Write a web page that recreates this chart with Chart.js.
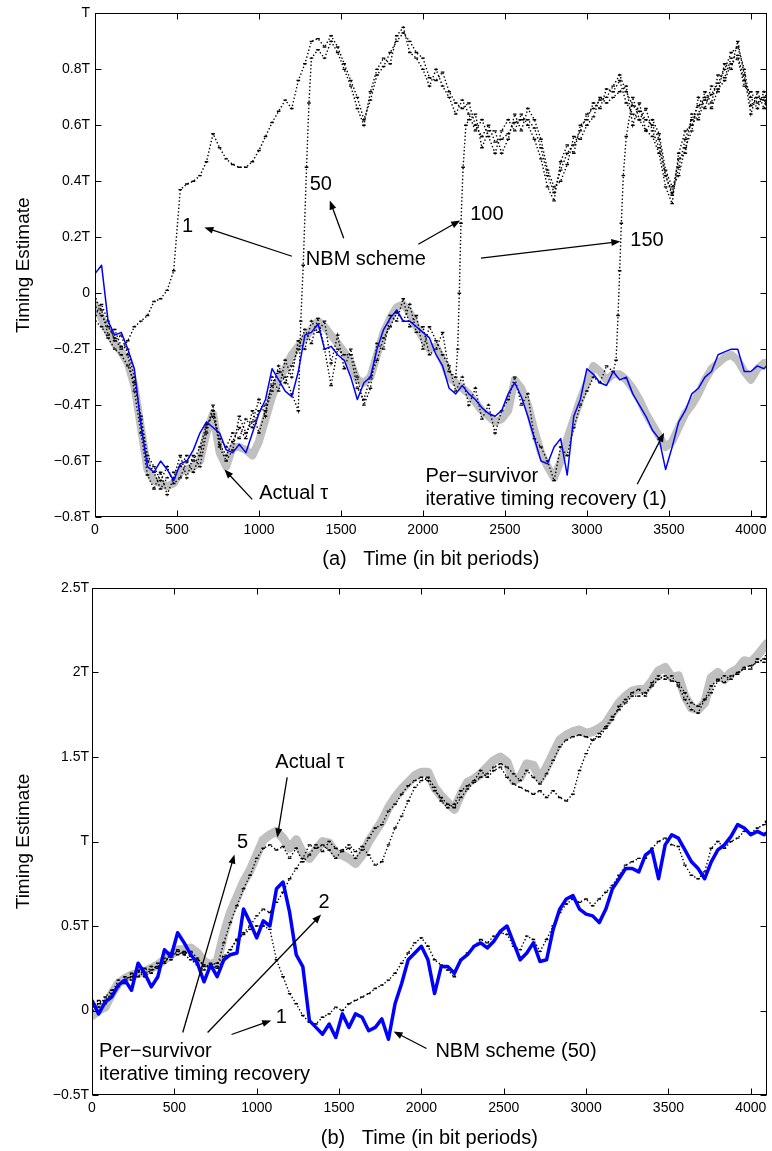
<!DOCTYPE html>
<html>
<head>
<meta charset="utf-8">
<script src="https://cdn.jsdelivr.net/npm/chart.js@4.4.0/dist/chart.umd.min.js"></script>
<style>
  html, body { margin: 0; padding: 0; background: #fff; }
  #wrap { position: relative; width: 772px; height: 1151px; }
  canvas { position: absolute; left: 0; }
  #chartA { top: 0; }
  #chartB { top: 575px; }
</style>
</head>
<body>
<div id="wrap">
  <canvas id="chartA" width="772" height="575"></canvas>
  <canvas id="chartB" width="772" height="576"></canvas>
</div>
<script>
// Sample times (bit periods), shared by every series
const timeGrid = [
  0, 40, 80, 120, 160, 200, 240, 280, 320, 360,
  400, 440, 480, 520, 560, 600, 640, 680, 720, 760,
  800, 840, 880, 920, 960, 1000, 1040, 1080, 1120, 1160,
  1200, 1240, 1280, 1320, 1360, 1400, 1440, 1480, 1520, 1560,
  1600, 1640, 1680, 1720, 1760, 1800, 1840, 1880, 1920, 1960,
  2000, 2040, 2080, 2120, 2160, 2200, 2240, 2280, 2320, 2360,
  2400, 2440, 2480, 2520, 2560, 2600, 2640, 2680, 2720, 2760,
  2800, 2840, 2880, 2920, 2960, 3000, 3040, 3080, 3120, 3160,
  3200, 3240, 3280, 3320, 3360, 3400, 3440, 3480, 3520, 3560,
  3600, 3640, 3680, 3720, 3760, 3800, 3840, 3880, 3920, 3960,
  4000, 4040, 4080, 4096
];

// ---- (a) top panel ----
// actual tau (grey)
const tauA = [
  -0.04, -0.09, -0.14, -0.18, -0.21, -0.25, -0.33, -0.48, -0.63, -0.67,
  -0.68, -0.69, -0.68, -0.64, -0.63, -0.62, -0.6, -0.5, -0.43, -0.57,
  -0.62, -0.55, -0.55, -0.56, -0.58, -0.53, -0.45, -0.37, -0.31, -0.27,
  -0.22, -0.19, -0.16, -0.13, -0.1, -0.12, -0.15, -0.18, -0.21, -0.25,
  -0.31, -0.32, -0.3, -0.22, -0.14, -0.09, -0.05, -0.04, -0.07, -0.12,
  -0.16, -0.2, -0.19, -0.24, -0.3, -0.32, -0.34, -0.36, -0.39, -0.42,
  -0.44, -0.46, -0.45, -0.42, -0.31, -0.34, -0.4, -0.49, -0.57, -0.62,
  -0.66, -0.6, -0.52, -0.45, -0.38, -0.32, -0.26, -0.28, -0.31, -0.29,
  -0.29, -0.31, -0.34, -0.38, -0.43, -0.47, -0.51, -0.55, -0.53, -0.48,
  -0.43, -0.4, -0.36, -0.31, -0.27, -0.25, -0.23, -0.22, -0.24, -0.28,
  -0.31, -0.27, -0.25, -0.25
];
// per-survivor iterative timing recovery (1), blue
const psrA = [
  0.07, 0.1, -0.1, -0.15, -0.14, -0.2, -0.27, -0.47, -0.62, -0.64,
  -0.6, -0.63, -0.67, -0.61, -0.6, -0.56, -0.5, -0.46, -0.48, -0.5,
  -0.56, -0.57, -0.54, -0.57, -0.5, -0.43, -0.38, -0.27, -0.31, -0.35,
  -0.37, -0.28, -0.15, -0.14, -0.11, -0.2, -0.19, -0.22, -0.24, -0.3,
  -0.38, -0.32, -0.3, -0.2, -0.13, -0.09, -0.06, -0.1, -0.1, -0.12,
  -0.14, -0.16, -0.22, -0.26, -0.34, -0.36, -0.33, -0.36, -0.38, -0.41,
  -0.43, -0.44, -0.42, -0.36, -0.32, -0.37, -0.44, -0.52, -0.6, -0.61,
  -0.55, -0.52, -0.65, -0.44, -0.38, -0.27, -0.29, -0.32, -0.33, -0.28,
  -0.31, -0.3, -0.36, -0.4, -0.44, -0.49, -0.52, -0.63, -0.55, -0.46,
  -0.42, -0.36, -0.34, -0.3, -0.28, -0.22, -0.21, -0.2, -0.2, -0.28,
  -0.28, -0.26, -0.27, -0.26
];
// NBM scheme after 1, 50, 100, 150 iterations (dotted)
const nbm1 = [
  -0.05, -0.08, -0.12, -0.16, -0.2, -0.17, -0.12, -0.1, -0.08, -0.03,
  -0.02, 0.01, 0.08, 0.37, 0.39, 0.4, 0.42, 0.47, 0.57, 0.52,
  0.48, 0.46, 0.45, 0.45, 0.47, 0.51, 0.56, 0.61, 0.65, 0.69,
  0.66, 0.76, 0.82, 0.9, 0.91, 0.88, 0.92, 0.88, 0.82, 0.76,
  0.7, 0.62, 0.69, 0.78, 0.81, 0.86, 0.9, 0.93, 0.9, 0.86,
  0.84, 0.77, 0.76, 0.79, 0.72, 0.68, 0.66, 0.68, 0.6, 0.56,
  0.6, 0.54, 0.55, 0.57, 0.61, 0.62, 0.62, 0.59, 0.52, 0.42,
  0.36, 0.44, 0.5, 0.53, 0.58, 0.64, 0.66, 0.69, 0.7, 0.74,
  0.78, 0.72, 0.67, 0.65, 0.62, 0.6, 0.55, 0.42, 0.35, 0.45,
  0.55, 0.62, 0.67, 0.69, 0.71, 0.75, 0.8, 0.86, 0.88, 0.8,
  0.67, 0.7, 0.69, 0.68
];
const nbm50 = [
  -0.02, -0.06, -0.15, -0.13, -0.19, -0.2, -0.3, -0.45, -0.6, -0.64,
  -0.7, -0.66, -0.64, -0.62, -0.58, -0.6, -0.55, -0.47, -0.44, -0.52,
  -0.55, -0.5, -0.52, -0.45, -0.48, -0.42, -0.4, -0.33, -0.28, -0.3,
  -0.36, -0.42, null, 0.84, 0.87, 0.84, 0.9, 0.86, 0.8, 0.74,
  0.66, 0.6, 0.72, 0.8, 0.84, 0.82, 0.92, 0.95, 0.86, 0.84,
  0.8, 0.74, 0.8, 0.74, 0.7, 0.64, 0.69, 0.64, 0.58, 0.62,
  0.56, 0.5, 0.58, 0.62, 0.58, 0.64, 0.6, 0.55, 0.48, 0.38,
  0.33, 0.47, 0.53, 0.5, 0.6, 0.62, 0.68, 0.66, 0.73, 0.72,
  0.76, 0.68, 0.64, 0.62, 0.58, 0.56, 0.5, 0.38, 0.32, 0.5,
  0.58, 0.6, 0.64, 0.72, 0.68, 0.78, 0.77, 0.84, 0.85, 0.76,
  0.7, 0.66, 0.72, 0.7
];
const nbm50SlipT = [1255, 1270, 1290, 1305];
const nbm50SlipV = [-0.1, 0.1, 0.45, 0.68];
const nbm100 = [
  -0.08, -0.04, -0.1, -0.17, -0.15, -0.22, -0.35, -0.5, -0.65, -0.7,
  -0.64, -0.72, -0.66, -0.58, -0.66, -0.58, -0.62, -0.5, -0.4, -0.54,
  -0.58, -0.53, -0.48, -0.52, -0.42, -0.5, -0.42, -0.35, -0.26, -0.32,
  -0.26, -0.2, -0.13, -0.18, -0.09, -0.2, -0.33, -0.2, -0.22, -0.22,
  -0.34, -0.38, -0.3, -0.24, -0.16, -0.12, -0.07, -0.1, -0.04, -0.14,
  -0.12, -0.22, -0.2, -0.14, -0.28, -0.3, null, 0.62, 0.64, 0.52,
  0.58, 0.58, 0.5, 0.55, 0.64, 0.58, 0.66, 0.62, 0.55, 0.44,
  0.38, 0.4, 0.46, 0.56, 0.55, 0.6, 0.63, 0.7, 0.68, 0.7,
  0.72, 0.74, 0.6, 0.68, 0.58, 0.62, 0.57, 0.44, 0.38, 0.42,
  0.52, 0.58, 0.7, 0.66, 0.74, 0.72, 0.82, 0.8, 0.9, 0.78,
  0.64, 0.72, 0.66, 0.7
];
const nbm100SlipT = [2212, 2222, 2232, 2245, 2262];
const nbm100SlipV = [-0.2, 0.0, 0.25, 0.45, 0.6];
const nbm150 = [
  -0.1, -0.12, -0.16, -0.2, -0.22, -0.26, -0.32, -0.44, -0.58, -0.62,
  -0.67, -0.62, -0.68, -0.66, -0.6, -0.64, -0.58, -0.48, -0.42, -0.55,
  -0.6, -0.56, -0.44, -0.5, -0.46, -0.38, -0.44, -0.3, -0.35, -0.24,
  -0.3, -0.17, -0.2, -0.1, -0.14, -0.1, -0.25, -0.15, -0.27, -0.2,
  -0.3, -0.4, -0.34, -0.18, -0.2, -0.08, -0.1, -0.02, -0.12, -0.08,
  -0.2, -0.12, -0.17, -0.22, -0.26, -0.35, -0.3, -0.4, -0.34, -0.45,
  -0.4, -0.5, -0.42, -0.38, -0.3, -0.4, -0.36, -0.52, -0.55, -0.6,
  -0.67, -0.55, -0.58, -0.48, -0.4, -0.35, -0.3, -0.32, -0.26, -0.28,
  null, 0.56, 0.7, 0.62, 0.66, 0.58, 0.52, 0.42, 0.36, 0.48,
  0.5, 0.64, 0.62, 0.7, 0.66, 0.73, 0.76, 0.82, 0.84, 0.74,
  0.72, 0.68, 0.7, 0.66
];
const nbm150SlipT = [3178, 3190, 3200, 3210, 3222];
const nbm150SlipV = [-0.24, -0.08, 0.08, 0.25, 0.42];

// ---- (b) bottom panel ----
const tauB = [
  -0.03, 0.0, 0.02, 0.1, 0.16, 0.19, 0.21, 0.22, 0.23, 0.25,
  0.27, 0.3, 0.33, 0.36, 0.36, 0.37, 0.34, 0.29, 0.27, 0.29,
  0.45, 0.58, 0.67, 0.76, 0.83, 0.92, 1.01, 1.04, 1.06, 1.02,
  0.96, 1.01, 0.93, 0.9, 0.95, 1.0, 0.99, 0.93, 0.92, 0.9,
  0.87, 0.92, 1.0, 1.06, 1.12, 1.2, 1.26, 1.31, 1.35, 1.39,
  1.41, 1.41, 1.32, 1.27, 1.23, 1.19, 1.28, 1.35, 1.37, 1.4,
  1.44, 1.48, 1.5, 1.47, 1.36, 1.38, 1.46, 1.45, 1.37, 1.44,
  1.52, 1.6, 1.63, 1.65, 1.66, 1.64, 1.65, 1.67, 1.7, 1.76,
  1.82, 1.86, 1.89, 1.9, 1.9, 1.95, 2.01, 2.03, 1.97, 1.98,
  1.86, 1.79, 1.78, 1.82, 1.97, 2.0, 1.96, 2.0, 2.02, 2.07,
  2.06, 2.1, 2.15, 2.17
];
// NBM scheme (50), blue
const nbmB = [
  0.06, -0.02, 0.05, 0.08, 0.15, 0.18, 0.12, 0.28, 0.22, 0.14,
  0.2, 0.36, 0.32, 0.46, 0.4, 0.33, 0.28, 0.17, 0.27, 0.2,
  0.3, 0.33, 0.34, 0.6, 0.52, 0.43, 0.53, 0.5, 0.72, 0.76,
  0.58, 0.33, 0.26, -0.06, -0.1, -0.14, -0.08, -0.16, -0.02, -0.1,
  -0.02, -0.04, -0.12, -0.1, -0.05, -0.17, 0.04, 0.16, 0.3, 0.34,
  0.38, 0.3, 0.1, 0.26, 0.26, 0.22, 0.3, 0.33, 0.38, 0.4,
  0.37, 0.41, 0.47, 0.5, 0.4, 0.3, 0.34, 0.4, 0.29, 0.3,
  0.48, 0.6, 0.66, 0.68, 0.6, 0.57, 0.56, 0.52, 0.6, 0.72,
  0.78, 0.84, 0.84, 0.82, 0.92, 0.95, 0.78, 0.98, 1.04, 1.02,
  0.95, 0.88, 0.84, 0.78, 0.88, 0.95, 0.98, 1.03, 1.1, 1.08,
  1.04, 1.06, 1.04, 1.05
];
// per-survivor iterative timing recovery after 5, 2, 1 iterations (dotted)
const psr5 = [
  0.02, 0.06, 0.04, 0.1, 0.18, 0.16, 0.22, 0.2, 0.25, 0.22,
  0.28, 0.28, 0.34, 0.33, 0.35, 0.32, 0.3, 0.27, 0.25, 0.26,
  0.4, 0.52, 0.62, 0.72, 0.8, 0.9, 0.96, 0.98, 0.95, 0.97,
  0.9, 0.96, 0.88, 0.92, 0.98, 0.94, 1.0, 0.96, 0.94, 0.96,
  0.9, 0.95, 1.02, 1.08, 1.1, 1.18, 1.22, 1.28, 1.33, 1.36,
  1.38, 1.36, 1.3, 1.26, 1.22, 1.2, 1.26, 1.31, 1.35, 1.38,
  1.4, 1.44, 1.46, 1.44, 1.4, 1.36, 1.42, 1.38, 1.34, 1.4,
  1.48, 1.56, 1.6, 1.62, 1.63, 1.62, 1.6, 1.64, 1.68, 1.74,
  1.78, 1.82, 1.86, 1.86, 1.88, 1.92, 1.96, 1.98, 1.95, 1.94,
  1.88, 1.82, 1.8, 1.84, 1.92, 1.96, 1.94, 1.98, 1.99, 2.03,
  2.04, 2.06, 2.08, 2.1
];
const psr2 = [
  0.04, 0.02, 0.08, 0.12, 0.14, 0.2, 0.18, 0.24, 0.21, 0.26,
  0.25, 0.31, 0.3, 0.36, 0.33, 0.3, 0.27, 0.24, 0.28, 0.25,
  0.3, 0.36, 0.42, 0.46, 0.5, 0.56, 0.6, 0.58, 0.64, 0.7,
  0.78, 0.84, 0.9, 0.98, 0.96, 0.98, 0.95, 0.9, 0.95, 0.98,
  0.94, 0.97, 0.92, 0.86, 0.88, 0.98, 1.08, 1.15, 1.24, 1.32,
  1.36, 1.38, 1.32, 1.24, 1.2, 1.22, 1.3, 1.33, 1.36, 1.42,
  1.38, 1.42, 1.44, 1.38, 1.34, 1.32, 1.3, 1.28, 1.3, 1.26,
  1.3, 1.26, 1.24, 1.28, 1.42, 1.52, 1.6, 1.62, 1.67, 1.72,
  1.8, 1.84, 1.88, 1.9, 1.86, 1.94, 1.98, 1.96, 1.98, 1.92,
  1.84, 1.78, 1.76, 1.84, 1.88, 1.95, 1.98, 1.96, 2.0, 2.02,
  2.02, 2.08, 2.06, 2.08
];
const psr1 = [
  0.0, 0.04, 0.06, 0.1, 0.15, 0.18, 0.2, 0.23, 0.2, 0.24,
  0.26, 0.29, 0.32, 0.35, 0.34, 0.35, 0.31, 0.26, 0.27, 0.28,
  0.32, 0.36, 0.42, 0.45, 0.48, 0.5, 0.5, 0.48, 0.3, 0.2,
  0.1, 0.04, -0.03, -0.07, -0.08, -0.04, -0.02, 0.02, 0.0, 0.04,
  0.06, 0.08, 0.1, 0.13, 0.15, 0.18, 0.22, 0.28, 0.34, 0.4,
  0.43, 0.38, 0.3, 0.27, 0.24, 0.2, 0.3, 0.34, 0.38, 0.42,
  0.4, 0.44, 0.46, 0.45, 0.38, 0.36, 0.44, 0.42, 0.35, 0.42,
  0.5, 0.58, 0.63, 0.66, 0.64, 0.66, 0.62, 0.66, 0.7, 0.74,
  0.8, 0.86, 0.88, 0.9, 0.9, 0.96, 1.0, 1.02, 0.98, 0.97,
  0.86, 0.8, 0.78, 0.82, 0.96, 1.0, 0.96, 1.0, 1.02, 1.06,
  1.05, 1.08, 1.1, 1.12
];

// axis ticks
const xTicks = [0, 500, 1000, 1500, 2000, 2500, 3000, 3500, 4000];
const yTicksA = [-0.8, -0.6, -0.4, -0.2, 0, 0.2, 0.4, 0.6, 0.8, 1];
const yLabelsA = ['\u22120.8T', '\u22120.6T', '\u22120.4T', '\u22120.2T', '0', '0.2T', '0.4T', '0.6T', '0.8T', 'T'];
const yTicksB = [-0.5, 0, 0.5, 1, 1.5, 2, 2.5];
const yLabelsB = ['\u22120.5T', '0', '0.5T', 'T', '1.5T', '2T', '2.5T'];

// annotations (data coordinates)
const notesA = [
  { text: '1', t: 564, v: 0.24, align: 'center' },
  { text: '50', t: 1377, v: 0.39, align: 'center' },
  { text: '100', t: 2288, v: 0.28 },
  { text: '150', t: 3265, v: 0.19 },
  { text: 'NBM scheme', t: 1286, v: 0.12 },
  { text: 'Actual \u03c4', t: 1001, v: -0.715 },
  { text: 'Per\u2212survivor', t: 2015, v: -0.655 },
  { text: 'iterative timing recovery (1)', t: 2015, v: -0.737 }
];
const arrowsA = [
  [1201, 0.132, 667, 0.235],
  [1517, 0.196, 1432, 0.331],
  [1972, 0.175, 2227, 0.26],
  [2354, 0.125, 3204, 0.185],
  [959, -0.737, 789, -0.63],
  [3307, -0.683, 3471, -0.499]
];
const notesB = [
  { text: 'Actual \u03c4', t: 1113, v: 1.467 },
  { text: '5', t: 914, v: 0.994, align: 'center' },
  { text: '2', t: 1409, v: 0.639, align: 'center' },
  { text: '1', t: 1149, v: -0.041, align: 'center' },
  { text: 'Per\u2212survivor', t: 42, v: -0.243 },
  { text: 'iterative timing recovery', t: 42, v: -0.379 },
  { text: 'NBM scheme (50)', t: 2085, v: -0.243 }
];
const arrowsB = [
  [1185, 1.379, 1125, 1.024],
  [551, -0.13, 865, 0.923],
  [702, -0.13, 1391, 0.568],
  [847, -0.142, 1088, -0.059],
  [2031, -0.225, 1831, -0.124]
];

const FONT = '"Liberation Sans", Arial, Helvetica, sans-serif';

// turn a series on the time grid (plus optional slip points) into {x,y}
function toPoints(vals, slipT, slipV) {
  const pts = [];
  timeGrid.forEach((t, i) => { if (vals[i] !== null) pts.push({ x: t, y: vals[i] }); });
  if (slipT) slipT.forEach((t, i) => pts.push({ x: t, y: slipV[i] }));
  return pts.sort((a, b) => a.x - b.x);
}

function greyLine(vals, w) {
  return { data: toPoints(vals), borderColor: '#c0c0c0', borderWidth: w, pointRadius: 0,
    borderJoinStyle: 'round', borderCapStyle: 'round', clip: 0, order: 3 };
}
// dotted black trace, small horizontal dashes at the samples
function dotLine(vals, slipT, slipV) {
  return { data: toPoints(vals, slipT, slipV), borderColor: '#000', borderWidth: 1.4,
    borderDash: [1.4, 2.2], pointStyle: 'line', pointRadius: 1.8, pointBorderWidth: 1.4,
    pointBorderColor: '#000', clip: 0, order: 2 };
}
function blueLine(vals, w) {
  return { data: toPoints(vals), borderColor: '#0000ff', borderWidth: w, pointRadius: 0,
    borderJoinStyle: 'round', clip: 0, order: 1 };
}

function drawArrow(ctx, x0, y0, x1, y1) {
  const ang = Math.atan2(y1 - y0, x1 - x0);
  const len = 9, half = 3.5;
  ctx.beginPath();
  ctx.moveTo(x0, y0);
  ctx.lineTo(x1 - Math.cos(ang) * len * 0.8, y1 - Math.sin(ang) * len * 0.8);
  ctx.stroke();
  ctx.beginPath();
  ctx.moveTo(x1, y1);
  ctx.lineTo(x1 - Math.cos(ang) * len - Math.sin(ang) * half, y1 - Math.sin(ang) * len + Math.cos(ang) * half);
  ctx.lineTo(x1 - Math.cos(ang) * len + Math.sin(ang) * half, y1 - Math.sin(ang) * len - Math.cos(ang) * half);
  ctx.closePath();
  ctx.fill();
}

// box round the plot and inward tick marks
const framePlugin = {
  id: 'frame',
  afterDatasetsDraw(chart) {
    const { ctx, chartArea: a, scales: { x, y } } = chart;
    const L = Math.round(a.left) + 0.5, R = Math.round(a.right) - 0.5;
    const T = Math.round(a.top) + 0.5, B = Math.round(a.bottom) - 0.5;
    ctx.save();
    ctx.strokeStyle = '#000';
    ctx.lineWidth = 1;
    ctx.strokeRect(L, T, R - L, B - T);
    ctx.beginPath();
    x.ticks.forEach(tk => {
      const px = Math.round(x.getPixelForValue(tk.value)) + 0.5;
      ctx.moveTo(px, B); ctx.lineTo(px, B - 6);
      ctx.moveTo(px, T); ctx.lineTo(px, T + 6);
    });
    y.ticks.forEach(tk => {
      const py = Math.round(y.getPixelForValue(tk.value)) + 0.5;
      ctx.moveTo(L, py); ctx.lineTo(L + 6, py);
      ctx.moveTo(R, py); ctx.lineTo(R - 6, py);
    });
    ctx.stroke();
    ctx.restore();
  }
};

// text labels and arrows
const notesPlugin = {
  id: 'notes',
  afterDatasetsDraw(chart, args, opts) {
    const { ctx, scales: { x, y } } = chart;
    ctx.save();
    ctx.fillStyle = '#000';
    ctx.strokeStyle = '#000';
    ctx.lineWidth = 1.3;
    ctx.font = '20px ' + FONT;
    ctx.textBaseline = 'middle';
    opts.labels.forEach(n => {
      ctx.textAlign = n.align || 'left';
      ctx.fillText(n.text, x.getPixelForValue(n.t), y.getPixelForValue(n.v));
    });
    opts.arrows.forEach(a => drawArrow(ctx,
      x.getPixelForValue(a[0]), y.getPixelForValue(a[1]),
      x.getPixelForValue(a[2]), y.getPixelForValue(a[3])));
    ctx.restore();
  }
};

function makeChart(id, cfg) {
  return new Chart(document.getElementById(id), {
    type: 'line',
    data: { datasets: cfg.datasets },
    options: {
      responsive: false,
      animation: false,
      devicePixelRatio: 1,
      events: [],
      layout: { padding: { top: cfg.top, right: 2, bottom: 0, left: 0 } },
      plugins: {
        legend: { display: false },
        tooltip: { enabled: false },
        notes: { labels: cfg.notes, arrows: cfg.arrows }
      },
      scales: {
        x: {
          type: 'linear', min: 0, max: 4096,
          grid: { display: false, drawTicks: false },
          border: { display: false },
          afterBuildTicks: s => { s.ticks = xTicks.map(v => ({ value: v })); },
          afterFit: s => { s.height = cfg.xHeight; },
          ticks: { color: '#000', font: { family: FONT, size: 14 }, padding: 5,
            autoSkip: false, maxRotation: 0, minRotation: 0, callback: v => String(v) },
          title: { display: true, text: cfg.xTitle, color: '#000',
            font: { family: FONT, size: 20 }, padding: { top: 0, bottom: cfg.xTitlePad } }
        },
        y: {
          type: 'linear', min: cfg.yMin, max: cfg.yMax,
          grid: { display: false, drawTicks: false },
          border: { display: false },
          afterBuildTicks: s => { s.ticks = cfg.yTicks.map(v => ({ value: v })); },
          afterFit: s => { s.width = cfg.yWidth; },
          ticks: { color: '#000', font: { family: FONT, size: 14 }, padding: cfg.yPad,
            autoSkip: false, callback: (v, i) => cfg.yLabels[i] },
          title: { display: true, text: 'Timing Estimate', color: '#000',
            font: { family: FONT, size: 19 }, padding: { top: 12.6, bottom: 0 } }
        }
      }
    },
    plugins: [framePlugin, notesPlugin]
  });
}

makeChart('chartA', {
  datasets: [
    blueLine(psrA, 1.5),
    dotLine(nbm1),
    dotLine(nbm50, nbm50SlipT, nbm50SlipV),
    dotLine(nbm100, nbm100SlipT, nbm100SlipV),
    dotLine(nbm150, nbm150SlipT, nbm150SlipV),
    greyLine(tauA, 8)
  ],
  top: 10, xHeight: 58, yWidth: 95, yPad: 5, xTitlePad: 4,
  yMin: -0.8, yMax: 1, yTicks: yTicksA, yLabels: yLabelsA,
  xTitle: '(a)   Time (in bit periods)',
  notes: notesA, arrows: arrowsA
});

makeChart('chartB', {
  datasets: [
    blueLine(nbmB, 3.5),
    dotLine(psr5),
    dotLine(psr2),
    dotLine(psr1),
    greyLine(tauB, 9)
  ],
  top: 13, xHeight: 56, yWidth: 92, yPad: 3, xTitlePad: 1,
  yMin: -0.5, yMax: 2.5, yTicks: yTicksB, yLabels: yLabelsB,
  xTitle: '(b)   Time (in bit periods)',
  notes: notesB, arrows: arrowsB
});
</script>
</body>
</html>
